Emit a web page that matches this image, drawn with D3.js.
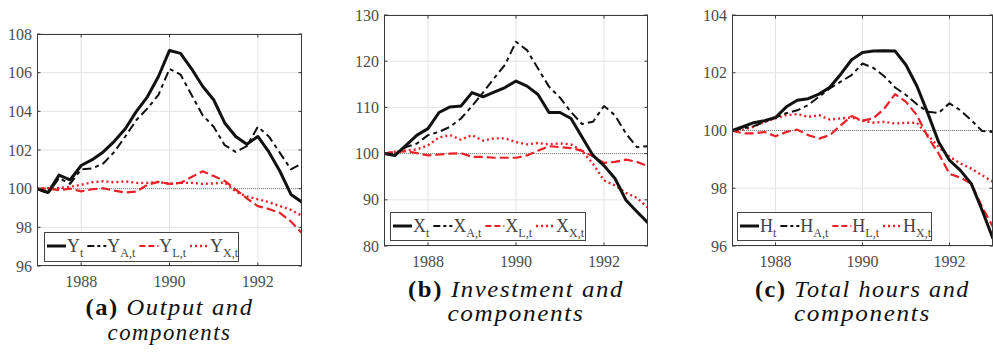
<!DOCTYPE html>
<html>
<head>
<meta charset="utf-8">
<script src="https://cdn.jsdelivr.net/npm/d3@7"></script>
<style>
  body { margin: 0; background: #fff; }
  svg { display: block; }
  .serif { font-family: "Liberation Serif", "Times New Roman", Times, "DejaVu Serif", serif; }
  .cap { font-family: "Liberation Serif", "Times New Roman", "DejaVu Serif", serif; letter-spacing: 1.5px; }
</style>
</head>
<body>
<svg id="chart" width="993" height="352"></svg>
<script>
const quarters = [1987, 1987.25, 1987.5, 1987.75, 1988, 1988.25, 1988.5, 1988.75,
    1989, 1989.25, 1989.5, 1989.75, 1990, 1990.25, 1990.5, 1990.75,
    1991, 1991.25, 1991.5, 1991.75, 1992, 1992.25, 1992.5, 1992.75, 1993];

const xTicks = [1988, 1990, 1992];

// panel (a): output
const outputTotal = [100, 99.8, 100.7, 100.45, 101.2, 101.5, 101.9, 102.45, 103.1, 104.0, 104.75, 105.8,
    107.15, 107.0, 106.2, 105.3, 104.6, 103.4, 102.7, 102.3, 102.7, 101.9, 100.9, 99.7, 99.3];
const outputA = [100, 99.75, 100.55, 100.25, 101.0, 101.05, 101.3, 101.9, 102.7, 103.55, 104.15, 104.85,
    106.2, 105.9, 104.85, 103.8, 103.2, 102.25, 101.9, 102.2, 103.2, 102.7, 101.85, 101.0, 101.3];
const outputL = [100, 100, 99.92, 100, 99.86, 99.97, 100.02, 99.9, 99.8, 99.85, 100.2, 100.35,
    100.25, 100.3, 100.6, 100.9, 100.65, 100.4, 99.95, 99.5, 99.1, 98.95, 98.75, 98.3, 97.7];
const outputX = [100, 100.03, 100.03, 100.1, 100.2, 100.33, 100.38, 100.33, 100.38, 100.3, 100.3, 100.35,
    100.25, 100.3, 100.3, 100.25, 100.27, 100.32, 99.85, 99.6, 99.45, 99.3, 99.1, 98.9, 98.6];
const outputTicks = [96, 98, 100, 102, 104, 106, 108];

// panel (b): investment
const investTotal = [100, 99.6, 101.8, 104.0, 105.4, 108.9, 110.1, 110.3, 113.2, 112.3, 113.3, 114.3,
    115.7, 114.6, 112.8, 108.9, 108.9, 107.6, 103.6, 99.6, 97.4, 94.6, 89.9, 87.4, 85.0];
const investA = [100, 99.9, 101.4, 102.2, 104.0, 104.7, 105.8, 107.6, 110.3, 113.2, 116.3, 119.2,
    124.2, 122.4, 118.4, 114.5, 112.1, 109.0, 106.4, 106.9, 110.3, 108.3, 104.3, 101.4, 101.6];
const investL = [100, 100.4, 100.5, 100.1, 99.6, 99.8, 100, 100.1, 99.3, 99.3, 99.1, 99.1,
    99.1, 99.6, 100.6, 101.6, 101.4, 101.2, 100.6, 99.4, 98.0, 98.2, 98.7, 98.2, 97.3];
const investX = [100, 100.4, 100.7, 100.9, 101.8, 103.5, 104.0, 103.0, 104.0, 102.8, 103.3, 103.3,
    102.5, 102.0, 102.3, 102.0, 102.2, 102.0, 100.6, 97.8, 94.2, 93.1, 91.5, 90.4, 88.3];
const investTicks = [80, 90, 100, 110, 120, 130];

// panel (c): total hours
const hoursTotal = [100, 100.13, 100.27, 100.34, 100.45, 100.82, 101.05, 101.1, 101.26, 101.5, 101.95, 102.45,
    102.7, 102.75, 102.76, 102.75, 102.27, 101.54, 100.6, 99.6, 98.97, 98.62, 98.16, 97.24, 96.25];
const hoursA = [100, 100.07, 100.15, 100.3, 100.45, 100.6, 100.7, 100.88, 101.17, 101.46, 101.69, 101.92,
    102.32, 102.17, 101.88, 101.49, 101.23, 100.91, 100.65, 100.61, 100.94, 100.7, 100.36, 99.98, 99.95];
const hoursL = [100, 99.9, 99.9, 99.95, 99.8, 99.95, 100.03, 99.84, 99.72, 99.84, 100.18, 100.5,
    100.34, 100.42, 100.76, 101.26, 100.99, 100.53, 99.78, 99.2, 98.5, 98.37, 98.16, 97.35, 96.66];
const hoursX = [100, 100.03, 100.13, 100.3, 100.42, 100.53, 100.57, 100.47, 100.53, 100.38, 100.42, 100.45,
    100.34, 100.27, 100.3, 100.24, 100.27, 100.27, 99.84, 99.43, 99.09, 98.86, 98.68, 98.45, 98.22];
const hoursTicks = [96, 98, 100, 102, 104];

const RED = "#ec2128";

const styles = [
    { color: "#111", width: 3, dash: null, legendDash: null },
    { color: "#111", width: 2, dash: "9,4,4,4", legendDash: "7,3,3,3" },
    { color: RED, width: 2.2, dash: "9,4", legendDash: "6,3" },
    { color: RED, width: 2.4, dash: "2,3", legendDash: "2,3" }
];

const panels = [
    {
        left: 37, right: 302, top: 34, bottom: 266,
        domain: [96, 108], ticks: outputTicks,
        series: [outputTotal, outputA, outputL, outputX],
        letter: "Y", subs: ["t", "A,t", "L,t", "X,t"],
        legend: { x: 44, y: 232, w: 194, h: 29 },
        tag: "(a)", line1: "Output and", line1Len: 168, line2Len: 124,
        cap1: 315, cap2: 340
    },
    {
        left: 384, right: 648, top: 15, bottom: 246,
        domain: [80, 130], ticks: investTicks,
        series: [investTotal, investA, investL, investX],
        letter: "X", subs: ["t", "A,t", "L,t", "X,t"],
        legend: { x: 390, y: 212, w: 195, h: 28 },
        tag: "(b)", line1: "Investment and", line1Len: 216, line2Len: 137,
        cap1: 297, cap2: 321
    },
    {
        left: 732, right: 993, top: 15, bottom: 246,
        domain: [96, 104], ticks: hoursTicks,
        series: [hoursTotal, hoursA, hoursL, hoursX],
        letter: "H", subs: ["t", "A,t", "L,t", "X,t"],
        legend: { x: 737, y: 212, w: 194, h: 28 },
        tag: "(c)", line1: "Total hours and", line1Len: 215, line2Len: 137,
        cap1: 297, cap2: 321
    }
];

const svg = d3.select("#chart");

function drawPanel(p) {
    const x = d3.scaleLinear().domain([1987, 1993]).range([p.left, p.right]);
    const y = d3.scaleLinear().domain(p.domain).range([p.bottom, p.top]);
    const g = svg.append("g");

    // grid
    g.selectAll(".vgrid").data(xTicks).enter().append("line")
        .attr("x1", d => x(d)).attr("x2", d => x(d))
        .attr("y1", p.top).attr("y2", p.bottom)
        .style("stroke", "#e3e3e3").style("stroke-width", 1);
    g.selectAll(".hgrid").data(p.ticks).enter().append("line")
        .attr("x1", p.left).attr("x2", p.right)
        .attr("y1", d => y(d)).attr("y2", d => y(d))
        .style("stroke", "#e3e3e3").style("stroke-width", 1);

    // dotted reference at 100
    g.append("line")
        .attr("x1", p.left).attr("x2", p.right)
        .attr("y1", y(100)).attr("y2", y(100))
        .style("stroke", "#666").style("stroke-width", 0.8)
        .style("stroke-dasharray", "1,1");

    // series
    const line = d3.line().x((d, i) => x(quarters[i])).y(d => y(d));
    const clipId = "clip-" + p.tag.replace(/\W/g, "");
    svg.append("clipPath").attr("id", clipId).append("rect")
        .attr("x", p.left).attr("y", p.top)
        .attr("width", p.right - p.left).attr("height", p.bottom - p.top);

    // red ones first, black on top
    [3, 2, 1, 0].forEach(k => {
        const s = styles[k];
        g.append("path")
            .datum(p.series[k])
            .attr("d", line)
            .attr("clip-path", `url(#${clipId})`)
            .style("fill", "none")
            .style("stroke", s.color)
            .style("stroke-width", s.width)
            .style("stroke-linejoin", "round")
            .style("stroke-dasharray", s.dash);
    });

    // frame and inward ticks on all four sides
    g.append("rect")
        .attr("x", p.left + 0.5).attr("y", p.top + 0.5)
        .attr("width", p.right - p.left - 1).attr("height", p.bottom - p.top - 1)
        .style("fill", "none").style("stroke", "#3a3a3a").style("stroke-width", 1);

    const tl = 3.5;
    p.ticks.forEach(t => {
        g.append("line").attr("x1", p.left).attr("x2", p.left + tl)
            .attr("y1", y(t)).attr("y2", y(t)).style("stroke", "#3a3a3a");
        g.append("line").attr("x1", p.right - tl).attr("x2", p.right)
            .attr("y1", y(t)).attr("y2", y(t)).style("stroke", "#3a3a3a");
    });
    xTicks.forEach(t => {
        g.append("line").attr("x1", x(t)).attr("x2", x(t))
            .attr("y1", p.bottom - tl).attr("y2", p.bottom).style("stroke", "#3a3a3a");
        g.append("line").attr("x1", x(t)).attr("x2", x(t))
            .attr("y1", p.top).attr("y2", p.top + tl).style("stroke", "#3a3a3a");
    });

    // tick labels
    g.selectAll(".ylab").data(p.ticks).enter().append("text")
        .attr("class", "serif")
        .attr("x", p.left - 5).attr("y", d => y(d)).attr("dy", "0.35em")
        .attr("text-anchor", "end")
        .style("font-size", "16px")
        .style("fill", "#4d4d4d")
        .text(d => d);
    g.selectAll(".xlab").data(xTicks).enter().append("text")
        .attr("class", "serif")
        .attr("x", d => x(d)).attr("y", p.bottom + 21)
        .attr("text-anchor", "middle")
        .style("font-size", "16px")
        .style("fill", "#4d4d4d")
        .text(d => d);

    // legend
    const L = p.legend;
    g.append("rect")
        .attr("x", L.x + 0.5).attr("y", L.y + 0.5).attr("width", L.w).attr("height", L.h)
        .style("fill", "#fff").style("stroke", "#444").style("stroke-width", 1);

    let cx = L.x + 3;
    const ly = L.y + 14;
    const sampleLen = 19;
    styles.forEach((s, k) => {
        g.append("line")
            .attr("x1", cx).attr("x2", cx + sampleLen)
            .attr("y1", ly).attr("y2", ly)
            .style("stroke", s.color).style("stroke-width", s.width)
            .style("stroke-dasharray", s.legendDash);
        cx += sampleLen + 1;
        const t = g.append("text")
            .attr("class", "serif")
            .attr("x", cx).attr("y", ly + 6)
            .style("font-size", "18px")
            .style("fill", "#444");
        t.append("tspan").text(p.letter);
        t.append("tspan").attr("dy", 5).style("font-size", "12px").text(p.subs[k]);
        cx += t.node().getComputedTextLength() + 4;
    });

    // caption
    const cxm = (p.left + p.right) / 2;
    const c1 = g.append("text")
        .attr("class", "cap")
        .attr("x", cxm).attr("y", p.cap1).attr("text-anchor", "middle")
        .attr("textLength", p.line1Len).attr("lengthAdjust", "spacingAndGlyphs")
        .style("font-size", "23px")
        .style("fill", "#111");
    c1.append("tspan").style("font-weight", "bold").text(p.tag + " ");
    c1.append("tspan").style("font-style", "italic").style("font-weight", "normal").text(p.line1);

    g.append("text")
        .attr("class", "cap")
        .attr("x", cxm).attr("y", p.cap2).attr("text-anchor", "middle")
        .attr("textLength", p.line2Len).attr("lengthAdjust", "spacingAndGlyphs")
        .style("font-size", "23px")
        .style("font-style", "italic").style("fill", "#111")
        .text("components");
}

panels.forEach(drawPanel);
</script>
</body>
</html>
